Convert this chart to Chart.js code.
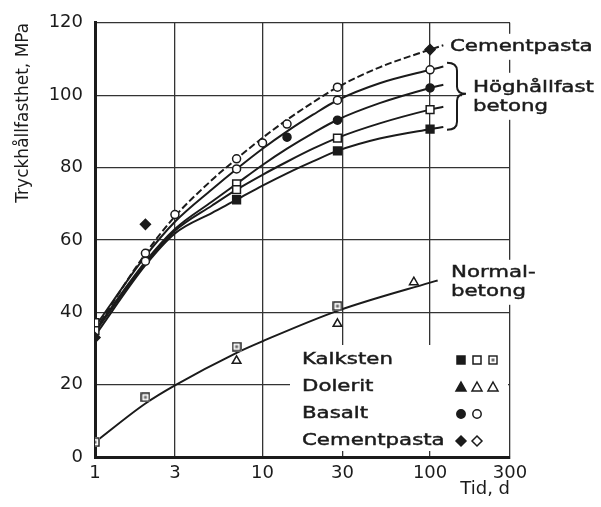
<!DOCTYPE html>
<html>
<head>
<meta charset="utf-8">
<script src="https://cdn.jsdelivr.net/npm/chart.js@4.4.1/dist/chart.umd.min.js"></script>
<style>
  html, body { margin: 0; padding: 0; background: #fff; }
</style>
</head>
<body>
<canvas id="graph" width="601" height="507"></canvas>
<script>
// ---- axis ticks ----
const dayTicks = [1, 3, 10, 30, 100, 300];

// ---- fitted curves ----
const curveDays = [1, 2, 3, 5, 7, 10, 14, 20, 28, 50, 100, 120];
const cementCurve = [35, 56.2, 66.5, 76.6, 82.4, 88.2, 93.2, 98, 102.2, 107.7, 112.6, 113.8];
const hsCurveA = [36, 55.5, 65, 74, 79.6, 85.2, 90, 94.6, 98.6, 103.3, 107, 107.9];
const hsCurveB = [35, 54, 63, 70.6, 75.5, 80.7, 85.2, 89.5, 93.2, 97.8, 102, 102.9];
const hsCurveC = [34.5, 53.5, 62.5, 69.5, 73.9, 78, 81.6, 85.2, 88.2, 92.2, 96, 96.8];
const hsCurveD = [33.5, 53, 61.8, 67.5, 71.1, 75, 78.4, 81.7, 84.6, 88, 90.6, 91.2];

const normalDays = [1, 2, 3, 7, 10, 28, 100, 111];
const normalCurve = [4.1, 14.8, 19.8, 28.8, 32, 40.4, 48.2, 48.8];

// ---- measured points ----
const filledDiamondDays = [1, 2, 100];
const filledDiamondVals = [33, 64.3, 112.6];
const openCircleDays = [2, 2, 3, 7, 7, 10, 14, 28, 28, 100];
const openCircleVals = [56.3, 54.1, 67, 82.4, 79.6, 86.8, 92, 102.2, 98.6, 107];
const filledCircleDays = [14, 28, 100];
const filledCircleVals = [88.4, 93.1, 102];
const openSquareDays = [1, 1, 7, 7, 28, 100];
const openSquareVals = [37.1, 34.9, 75.5, 73.9, 88.1, 96];
const filledSquareDays = [7, 28, 100];
const filledSquareVals = [71.1, 84.6, 90.6];
const normalSquareDays = [1, 2, 7, 28];
const normalSquareVals = [4.1, 16.5, 30.5, 41.7];
const normalTriangleDays = [7, 28, 80];
const normalTriangleVals = [26.6, 36.8, 48.3];

// ---- legend ----
const legendNames = ['Kalksten', 'Dolerit', 'Basalt', 'Cementpasta'];
const legendSymbols = [
  ['sq', 'sqOpen', 'sqCross'],
  ['tri', 'triOpen', 'triOpen'],
  ['dot', 'dotOpen'],
  ['dia', 'diaOpen']
];

const ink = '#1b1b1b';
const FONT = '"DejaVu Sans", sans-serif';

// patterned square used for normal concrete (kalksten)
const crossBox = document.createElement('canvas');
crossBox.width = 10;
crossBox.height = 10;
(function () {
  const c = crossBox.getContext('2d');
  c.fillStyle = '#fff';
  c.fillRect(0, 0, 10, 10);
  c.strokeStyle = ink;
  c.lineWidth = 1.4;
  c.strokeRect(1, 1, 8, 8);
  c.fillStyle = '#6a6a6a';
  c.fillRect(3.5, 3.5, 3, 3);
})();

function pts(xs, ys) {
  return xs.map((x, i) => ({ x: x, y: ys[i] }));
}

function curve(xs, ys, dashed) {
  return {
    data: pts(xs, ys),
    borderColor: ink,
    borderWidth: 2,
    borderDash: dashed ? [7, 3] : [],
    pointRadius: 0,
    cubicInterpolationMode: 'monotone',
    fill: false,
    order: 2
  };
}

function marks(xs, ys, style, filled, r) {
  return {
    data: pts(xs, ys),
    showLine: false,
    pointStyle: style,
    pointRadius: r,
    pointBackgroundColor: filled ? ink : '#fff',
    pointBorderColor: ink,
    pointBorderWidth: 1.5,
    order: 1
  };
}

// -------------------------
// small symbol for the legend box
// -------------------------
function drawSym(ctx, kind, x, y) {
  ctx.save();
  ctx.lineWidth = 1.5;
  ctx.strokeStyle = ink;
  ctx.fillStyle = kind.endsWith('Open') ? '#fff' : ink;
  ctx.beginPath();
  if (kind === 'sqCross') {
    ctx.drawImage(crossBox, x - 5, y - 5);
    ctx.restore();
    return;
  }
  if (kind.startsWith('sq')) {
    ctx.rect(x - 4, y - 4, 8, 8);
  } else if (kind.startsWith('tri')) {
    ctx.moveTo(x, y - 5);
    ctx.lineTo(x + 5, y + 4);
    ctx.lineTo(x - 5, y + 4);
    ctx.closePath();
  } else if (kind.startsWith('dot')) {
    ctx.arc(x, y, 4.2, 0, Math.PI * 2);
  } else if (kind.startsWith('dia')) {
    ctx.moveTo(x, y - 5);
    ctx.lineTo(x + 5, y);
    ctx.lineTo(x, y + 5);
    ctx.lineTo(x - 5, y);
    ctx.closePath();
  }
  ctx.fill();
  ctx.stroke();
  ctx.restore();
}

// the scan is stretched sideways, so the text is too
function wideText(ctx, text, x, y) {
  ctx.save();
  ctx.translate(x, y);
  ctx.scale(1.33, 1);
  ctx.fillText(text, 0, 0);
  ctx.strokeText(text, 0, 0);
  ctx.restore();
}

// -------------------------
// labels, brace and legend box
// -------------------------
const notes = {
  id: 'notes',
  afterDraw(chart) {
    const ctx = chart.ctx;
    const a = chart.chartArea;
    ctx.save();

    // white patches behind texts
    ctx.fillStyle = '#fff';
    ctx.fillRect(a.right - 64, a.top + 11, 160, 26);
    ctx.fillRect(a.right - 48, a.top + 50, 150, 47);
    ctx.fillRect(a.right - 63, a.top + 237, 100, 45);
    ctx.fillRect(a.left + 195, a.bottom - 112, a.right - a.left - 197, 106);

    ctx.fillStyle = ink;
    ctx.strokeStyle = ink;
    ctx.lineWidth = 0.45;
    ctx.font = '16px ' + FONT;
    ctx.textBaseline = 'middle';
    ctx.textAlign = 'left';

    wideText(ctx, 'Cementpasta', a.right - 60, a.top + 24);
    wideText(ctx, 'Höghållfast', a.right - 37, a.top + 65);
    wideText(ctx, 'betong', a.right - 37, a.top + 84);
    wideText(ctx, 'Normal-', a.right - 59, a.top + 250);
    wideText(ctx, 'betong', a.right - 59, a.top + 269);

    // legend rows
    const rowY = [a.bottom - 97, a.bottom - 70, a.bottom - 43, a.bottom - 16];
    const colX = [a.right - 49, a.right - 33, a.right - 17];
    legendNames.forEach((name, i) => {
      ctx.fillStyle = ink;
      wideText(ctx, name, a.left + 207, rowY[i]);
      legendSymbols[i].forEach((s, j) => drawSym(ctx, s, colX[j], rowY[i]));
    });

    // brace
    const bx = a.right - 63, sx = a.right - 53, tx = a.right - 44;
    const t = a.top + 40, m = a.top + 71, b = a.top + 107;
    ctx.strokeStyle = ink;
    ctx.lineWidth = 2;
    ctx.beginPath();
    ctx.moveTo(bx, t);
    ctx.quadraticCurveTo(sx, t, sx, t + 8);
    ctx.lineTo(sx, m - 7);
    ctx.quadraticCurveTo(sx, m, tx, m);
    ctx.quadraticCurveTo(sx, m, sx, m + 7);
    ctx.lineTo(sx, b - 8);
    ctx.quadraticCurveTo(sx, b, bx, b);
    ctx.stroke();

    ctx.restore();
  }
};

const tickFont = { family: FONT, size: 18 };

new Chart(document.getElementById('graph'), {
  type: 'line',
  data: {
    datasets: [
      curve(curveDays, cementCurve, true),
      curve(curveDays, hsCurveA, false),
      curve(curveDays, hsCurveB, false),
      curve(curveDays, hsCurveC, false),
      curve(curveDays, hsCurveD, false),
      curve(normalDays, normalCurve, false),
      marks(filledDiamondDays, filledDiamondVals, 'rectRot', true, 5),
      marks(openCircleDays, openCircleVals, 'circle', false, 4),
      marks(filledCircleDays, filledCircleVals, 'circle', true, 4),
      marks(openSquareDays, openSquareVals, 'rect', false, 5.5),
      marks(filledSquareDays, filledSquareVals, 'rect', true, 5.5),
      marks(normalSquareDays, normalSquareVals, crossBox, false, 5),
      marks(normalTriangleDays, normalTriangleVals, 'triangle', false, 5)
    ]
  },
  options: {
    responsive: false,
    animation: false,
    layout: { padding: { left: 0, top: 20, right: 91, bottom: 0 } },
    plugins: {
      legend: { display: false },
      tooltip: { enabled: false }
    },
    scales: {
      x: {
        type: 'logarithmic',
        min: 1,
        max: 300,
        afterBuildTicks: s => { s.ticks = dayTicks.map(v => ({ value: v })); },
        afterFit: s => { s.height = 50; },
        ticks: {
          autoSkip: false,
          maxRotation: 0,
          padding: 6,
          color: ink,
          font: tickFont,
          callback: v => String(v)
        },
        grid: { color: '#333', lineWidth: 1.3, drawTicks: false },
        border: { color: ink, width: 3 },
        title: {
          display: true,
          text: 'Tid, d',
          align: 'end',
          color: ink,
          font: { family: FONT, size: 18 },
          padding: { top: 0, bottom: 7 }
        }
      },
      y: {
        min: 0,
        max: 120,
        afterFit: s => { s.width = 95; },
        ticks: { stepSize: 20, padding: 12, color: ink, font: tickFont },
        grid: { color: '#333', lineWidth: 1.3, drawTicks: false },
        border: { color: ink, width: 3 },
        title: {
          display: true,
          text: 'Tryckhållfasthet, MPa',
          align: 'end',
          color: ink,
          font: { family: FONT, size: 17 },
          padding: { top: 13, bottom: 0 }
        }
      }
    }
  },
  plugins: [notes]
});
</script>
</body>
</html>
